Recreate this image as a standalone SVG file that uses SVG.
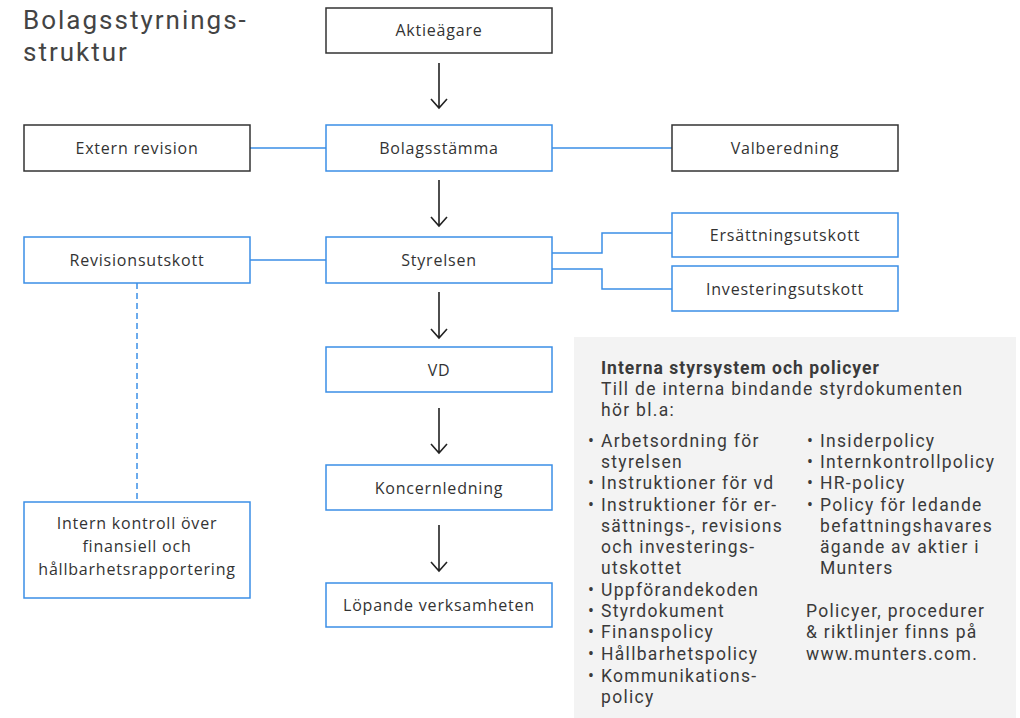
<svg xmlns="http://www.w3.org/2000/svg" width="1020" height="718" viewBox="0 0 1020 718">
<defs>
<style>
.bk{fill:#fff;stroke:#333;stroke-width:1.5}
.bl{fill:#fff;stroke:#3b8ee6;stroke-width:1.5}
.lbl{font-family:"Open Sans","Liberation Sans",sans-serif;font-size:16px;letter-spacing:0.8px;fill:#333;text-anchor:middle}
.ln{fill:none;stroke:#3b8ee6;stroke-width:1.5}
.ar{fill:none;stroke:#222;stroke-width:1.6}
.tx{font-family:Roboto,"Liberation Sans",sans-serif;font-size:17.5px;letter-spacing:1.3px;fill:#3a3a3a}
.b{font-weight:bold;letter-spacing:1px}
.ttl{font-family:Roboto,"Liberation Sans",sans-serif;font-size:26px;letter-spacing:2px;fill:#444}
</style>
</defs>
<rect width="1020" height="718" fill="#fff"/>
<text class="ttl" x="23" y="29">Bolagsstyrnings-</text>
<text class="ttl" x="23" y="61">struktur</text>

<g id="connectors">
<path class="ln" d="M250,148H326M552,148H672"/>
<path class="ln" d="M250,260H326"/>
<path class="ln" d="M552,253H602V233H672M552,269H602V289H672"/>
<path class="ln" d="M137,283V502" stroke-dasharray="6,4"/>
<path class="ar" d="M439,63V108M431,99L439,108L447,99"/>
<path class="ar" d="M439,180V226M431,217L439,226L447,217"/>
<path class="ar" d="M439,292V338M431,329L439,338L447,329"/>
<path class="ar" d="M439,408V453M431,444L439,453L447,444"/>
<path class="ar" d="M439,525V571M431,562L439,571L447,562"/>
</g>

<g id="aktieagare"><rect class="bk" x="326" y="8" width="226" height="45"/><text class="lbl" x="439" y="36">Aktieägare</text></g>
<g id="extern-revision"><rect class="bk" x="24" y="125" width="226" height="46"/><text class="lbl" x="137" y="154">Extern revision</text></g>
<g id="bolagsstamma"><rect class="bl" x="326" y="125" width="226" height="46"/><text class="lbl" x="439" y="154">Bolagsstämma</text></g>
<g id="valberedning"><rect class="bk" x="672" y="125" width="226" height="46"/><text class="lbl" x="785" y="154">Valberedning</text></g>
<g id="revisionsutskott"><rect class="bl" x="24" y="237" width="226" height="46"/><text class="lbl" x="137" y="266">Revisionsutskott</text></g>
<g id="styrelsen"><rect class="bl" x="326" y="237" width="226" height="46"/><text class="lbl" x="439" y="266">Styrelsen</text></g>
<g id="ersattningsutskott"><rect class="bl" x="672" y="213" width="226" height="44"/><text class="lbl" x="785" y="241">Ersättningsutskott</text></g>
<g id="investeringsutskott"><rect class="bl" x="672" y="266" width="226" height="45"/><text class="lbl" x="785" y="295">Investeringsutskott</text></g>
<g id="vd"><rect class="bl" x="326" y="347" width="226" height="45"/><text class="lbl" x="439" y="376">VD</text></g>
<g id="koncernledning"><rect class="bl" x="326" y="465" width="226" height="45"/><text class="lbl" x="439" y="494">Koncernledning</text></g>
<g id="lopande"><rect class="bl" x="326" y="583" width="226" height="44"/><text class="lbl" x="439" y="611">Löpande verksamheten</text></g>
<g id="intern-kontroll"><rect class="bl" x="24" y="502" width="226" height="96"/>
<text class="lbl" x="137" y="529">Intern kontroll över</text>
<text class="lbl" x="137" y="552">finansiell och</text>
<text class="lbl" x="137" y="575">hållbarhetsrapportering</text></g>

<g id="policy-panel">
<rect x="574" y="337" width="442" height="381" fill="#f3f3f3"/>
<text class="tx b" x="601" y="374">Interna styrsystem och policyer</text>
<text class="tx" x="601" y="395">Till de interna bindande styrdokumenten</text>
<text class="tx" x="601" y="416">hör bl.a:</text>
<text class="tx" x="588" y="447">•<tspan x="601">Arbetsordning för</tspan></text>
<text class="tx" x="601" y="468">styrelsen</text>
<text class="tx" x="588" y="489">•<tspan x="601">Instruktioner för vd</tspan></text>
<text class="tx" x="588" y="511">•<tspan x="601">Instruktioner för er-</tspan></text>
<text class="tx" x="601" y="532">sättnings-, revisions</text>
<text class="tx" x="601" y="553">och investerings-</text>
<text class="tx" x="601" y="574">utskottet</text>
<text class="tx" x="588" y="596">•<tspan x="601">Uppförandekoden</tspan></text>
<text class="tx" x="588" y="617">•<tspan x="601">Styrdokument</tspan></text>
<text class="tx" x="588" y="638">•<tspan x="601">Finanspolicy</tspan></text>
<text class="tx" x="588" y="660">•<tspan x="601">Hållbarhetspolicy</tspan></text>
<text class="tx" x="588" y="682">•<tspan x="601">Kommunikations-</tspan></text>
<text class="tx" x="601" y="703">policy</text>
<text class="tx" x="807" y="447">•<tspan x="820">Insiderpolicy</tspan></text>
<text class="tx" x="807" y="468">•<tspan x="820">Internkontrollpolicy</tspan></text>
<text class="tx" x="807" y="489">•<tspan x="820">HR-policy</tspan></text>
<text class="tx" x="807" y="511">•<tspan x="820">Policy för ledande</tspan></text>
<text class="tx" x="820" y="532">befattningshavares</text>
<text class="tx" x="820" y="553">ägande av aktier i</text>
<text class="tx" x="820" y="574">Munters</text>
<text class="tx" x="806" y="617">Policyer, procedurer</text>
<text class="tx" x="806" y="638">&amp; riktlinjer finns på</text>
<text class="tx" x="806" y="660">www.munters.com.</text>
</g>
</svg>
